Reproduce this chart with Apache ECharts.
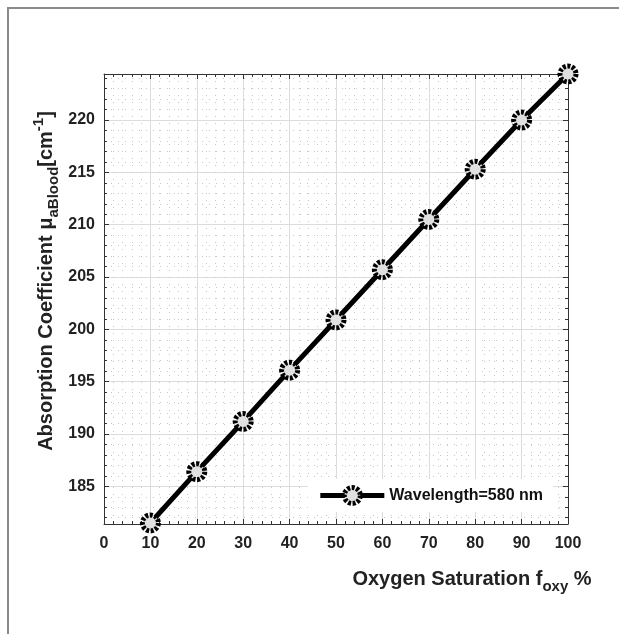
<!DOCTYPE html>
<html>
<head>
<meta charset="utf-8">
<script src="https://cdn.jsdelivr.net/npm/echarts@6/dist/echarts.min.js"></script>
<style>
html,body{margin:0;padding:0;background:#fff;}
#chart{width:619px;height:634px;}
</style>
</head>
<body>
<div id="chart"></div>
<script>
// Data
const saturation = [10, 20, 30, 40, 50, 60, 70, 80, 90, 100];
const absorption = [181.5, 186.4, 191.2, 196.1, 200.9, 205.7, 210.5, 215.3, 220.0, 224.4];
const xTicks = [0, 10, 20, 30, 40, 50, 60, 70, 80, 90, 100];
const yTicks = [185, 190, 195, 200, 205, 210, 215, 220];
const seriesName = 'Wavelength=580 nm';

const FONT = '"Liberation Sans", Arial, Helvetica, sans-serif';
const chart = echarts.init(document.getElementById('chart'), null, {renderer: 'canvas'});

const yMin = 181.4, yMax = 224.4;

const axisCommon = {
  axisLine: {show: true, onZero: false, lineStyle: {color: '#333', width: 1}},
  axisTick: {show: true, inside: true, length: 5, lineStyle: {color: '#333'}},
  minorTick: {show: true, splitNumber: 5, length: 3, lineStyle: {color: '#333'}},
};

const markerStyle = {color: '#e0e0e0', borderColor: '#000', borderWidth: 5, borderType: [3, 1.6]};

const option = {
  backgroundColor: '#fff',
  animation: false,
  grid: {left: 104, right: 51, top: 74, bottom: 110, containLabel: false},
  legend: {
    data: [seriesName],
    right: 66, bottom: 122,
    backgroundColor: '#fff',
    padding: [6, 10, 6, 10],
    itemWidth: 64, itemHeight: 20,
    itemGap: 7,
    lineStyle: {color: '#000', width: 5},
    itemStyle: markerStyle,
    textStyle: {fontFamily: FONT, fontWeight: 'bold', fontSize: 16, color: '#111'}
  },
  xAxis: [{
    type: 'value', min: 0, max: 100, interval: 10,
    ...axisCommon,
    axisLabel: {show: true, margin: 12, fontFamily: FONT, fontWeight: 'bold', fontSize: 16, color: '#222',
      formatter: v => xTicks.includes(v) ? String(v) : ''},
    splitLine: {show: true, lineStyle: {color: '#dcdcdc', width: 1}},
    minorSplitLine: {show: true, lineStyle: {color: '#c8c8c8', width: 1, type: [1, 6]}}
  }, {
    type: 'value', min: 0, max: 100, interval: 10, position: 'top',
    ...axisCommon,
    axisLabel: {show: false},
    splitLine: {show: false}
  }],
  yAxis: [{
    type: 'value', min: yMin, max: yMax, splitNumber: 8,
    ...axisCommon,
    axisLabel: {show: true, margin: 9, fontFamily: FONT, fontWeight: 'bold', fontSize: 16, color: '#222',
      showMinLabel: false, showMaxLabel: false,
      formatter: v => yTicks.includes(Math.round(v * 1000) / 1000) ? String(v) : ''},
    splitLine: {show: true, lineStyle: {color: '#dcdcdc', width: 1}},
    minorSplitLine: {show: true, lineStyle: {color: '#c8c8c8', width: 1, type: [1, 6]}}
  }, {
    type: 'value', min: yMin, max: yMax, splitNumber: 8, position: 'right',
    ...axisCommon,
    axisLabel: {show: false},
    splitLine: {show: false}
  }],
  series: [{
    name: seriesName,
    type: 'line',
    data: saturation.map((x, i) => [x, absorption[i]]),
    lineStyle: {color: '#000', width: 5},
    symbol: 'circle',
    symbolSize: 16,
    itemStyle: markerStyle,
    z: 5
  }],
  graphic: [
    {type: 'rect', shape: {x: 8, y: 8, width: 900, height: 900}, style: {fill: 'none', stroke: '#8a8a8a', lineWidth: 2}, silent: true, z: 100},
    {type: 'text', x: 472, y: 579, style: {
      text: '{a|Oxygen Saturation f}{s|oxy}{a| %}',
      align: 'center', verticalAlign: 'middle',
      rich: {
        a: {fontFamily: FONT, fontWeight: 'bold', fontSize: 20, fill: '#222'},
        s: {fontFamily: FONT, fontWeight: 'bold', fontSize: 15, fill: '#222', padding: [16, 0, 0, 0]}
      }
    }},
    {type: 'text', x: 46, y: 281, rotation: Math.PI / 2, style: {
      text: '{a|Absorption Coefficient μ}{s|aBlood}{a|[cm}{p|-1}{a|]}',
      align: 'center', verticalAlign: 'middle',
      rich: {
        a: {fontFamily: FONT, fontWeight: 'bold', fontSize: 20, fill: '#222'},
        s: {fontFamily: FONT, fontWeight: 'bold', fontSize: 15, fill: '#222', padding: [15, 0, 0, 0]},
        p: {fontFamily: FONT, fontWeight: 'bold', fontSize: 15, fill: '#222', padding: [0, 0, 15, 0]}
      }
    }}
  ]
};
chart.setOption(option);
</script>
</body>
</html>
